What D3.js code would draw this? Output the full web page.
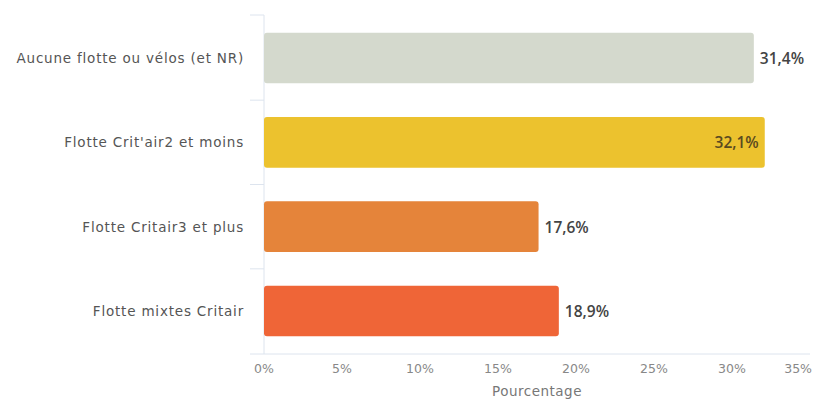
<!DOCTYPE html>
<html><head><meta charset="utf-8">
<script src="https://cdn.jsdelivr.net/npm/d3@7"></script>
<style>body{margin:0;background:#fff}svg{display:block}</style>
</head><body><svg id="c" width="814" height="400"></svg>
<script>
const categories = ["Aucune flotte ou vélos (et NR)", "Flotte Crit'air2 et moins", "Flotte Critair3 et plus", "Flotte mixtes Critair"];
const values = [31.4, 32.1, 17.6, 18.9];
const valueLabels = ["31,4%", "32,1%", "17,6%", "18,9%"];
const colors = ["#d4d9cd", "#ecc22e", "#e5843a", "#ef6537"];
const xTicks = [0, 5, 10, 15, 20, 25, 30, 35];
const xTickLabels = ["0%", "5%", "10%", "15%", "20%", "25%", "30%", "35%"];
const xTitle = "Pourcentage";

const svg = d3.select("#c");
const x = d3.scaleLinear().domain([0, 35]).range([264, 810]);
const y = d3.scaleBand().domain(categories).range([15, 354]).paddingInner(0.4).paddingOuter(0.21);

const gridColor = "#dde4ee";
svg.append("line").attr("x1", 264).attr("x2", 264).attr("y1", 15).attr("y2", 354)
  .attr("stroke", gridColor).attr("stroke-width", 1);
const step = y.step();
const bounds = [y.range()[0]].concat(categories.slice(1).map(c => y(c) - step * y.paddingInner() / 2));
svg.selectAll(".yt").data(bounds).join("line")
  .attr("x1", 250).attr("x2", 264).attr("y1", d => d).attr("y2", d => d)
  .attr("stroke", gridColor);
svg.append("line").attr("x1", 250).attr("x2", x(35)).attr("y1", 354).attr("y2", 354)
  .attr("stroke", gridColor);

svg.selectAll(".bar").data(values).join("rect")
  .attr("x", x(0)).attr("y", (d, i) => y(categories[i]))
  .attr("width", d => x(d) - x(0)).attr("height", y.bandwidth())
  .attr("rx", 3).attr("fill", (d, i) => colors[i]);

svg.selectAll(".cl").data(categories).join("text")
  .attr("x", 244).attr("y", d => y(d) + y.bandwidth() / 2)
  .attr("text-anchor", "end").attr("dominant-baseline", "central")
  .attr("font-family", "DejaVu Sans").attr("font-size", 13.5).attr("letter-spacing", 0.8)
  .attr("fill", "#555")
  .text(d => d);

svg.selectAll(".vl").data(values).join("text")
  .attr("x", (d, i) => i === 1 ? x(d) - 6 : x(d) + 6)
  .attr("y", (d, i) => y(categories[i]) + y.bandwidth() / 2)
  .attr("text-anchor", (d, i) => i === 1 ? "end" : "start")
  .attr("dominant-baseline", "central")
  .attr("font-family", "Open Sans").attr("font-weight", 600).attr("font-size", 15.5)
  .attr("fill", (d, i) => i === 1 ? "#5a4a20" : "#444")
  .text((d, i) => valueLabels[i]);

svg.selectAll(".xt").data(xTicks).join("text")
  .attr("x", (d, i) => i === xTicks.length - 1 ? 812 : x(d))
  .attr("y", 368).attr("dominant-baseline", "central")
  .attr("text-anchor", (d, i) => i === xTicks.length - 1 ? "end" : "middle")
  .attr("font-family", "DejaVu Sans").attr("font-size", 12.5).attr("fill", "#888")
  .text((d, i) => xTickLabels[i]);

svg.append("text").attr("x", x(17.5)).attr("y", 391).attr("text-anchor", "middle")
  .attr("dominant-baseline", "central")
  .attr("font-family", "DejaVu Sans").attr("font-size", 13.5).attr("letter-spacing", 0.5).attr("fill", "#777")
  .text(xTitle);
</script></body></html>
